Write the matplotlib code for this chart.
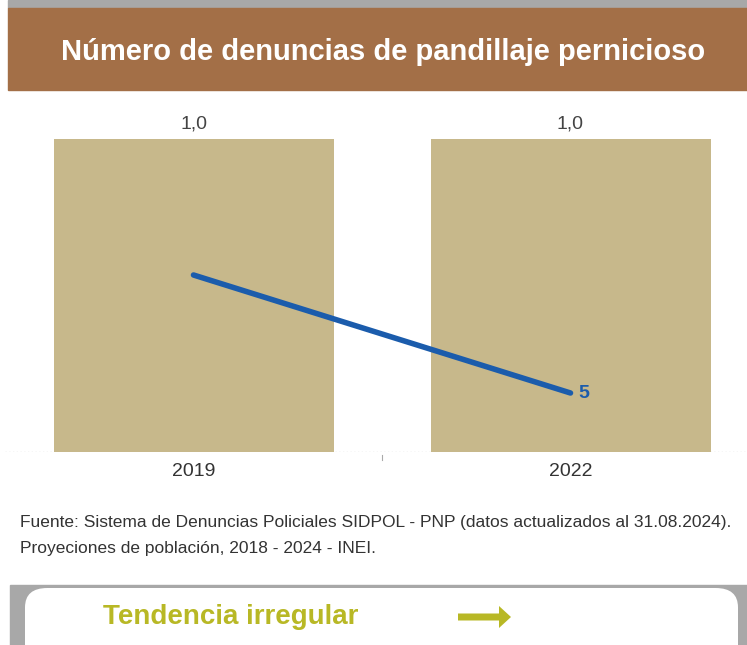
import matplotlib
matplotlib.use("Agg")
import matplotlib.pyplot as plt
from matplotlib.patches import Rectangle, FancyBboxPatch, Polygon

plt.rcParams["font.family"] = ["Liberation Sans", "DejaVu Sans"]

years = ["2019", "2022"]
bar_values = [1.0, 1.0]
line_values = [15, 5]
title = "Número de denuncias de pandillaje pernicioso"
source_lines = [
    "Fuente: Sistema de Denuncias Policiales SIDPOL - PNP (datos actualizados al 31.08.2024).",
    "Proyeciones de población, 2018 - 2024 - INEI.",
]
trend_label = "Tendencia irregular"

W, H = 747, 645
fig = plt.figure(figsize=(W / 100, H / 100), dpi=100)


def px(x, y):
    # pixel coords (top-left origin) -> figure fraction
    return x / W, 1 - y / H


# header band
fig.patches.append(Rectangle(px(8, 8), (W - 8) / W, 8 / H, transform=fig.transFigure,
                             color="#a8a8a8", zorder=0))
fig.patches.append(Rectangle(px(8, 90), (W - 8) / W, 82 / H, transform=fig.transFigure,
                             color="#a36f47", zorder=0))
fig.text(*px(383, 52), title, color="white", fontsize=21, fontweight="bold",
         ha="center", va="center")

# chart area
ax_left, ax_right, ax_top, ax_bot = 5, W, 100, 452
ax = fig.add_axes([ax_left / W, 1 - ax_bot / H, (ax_right - ax_left) / W, (ax_bot - ax_top) / H])
spacing = 377.0
x = list(range(len(years)))
ax.set_xlim(-0.5, -0.5 + (ax_right - ax_left) / spacing)
ax.set_ylim(0, 1.0 * (ax_bot - ax_top) / 313)
ax.bar(x, bar_values, width=280 / spacing, color="#c7b88b", zorder=1)
for xi, v in zip(x, bar_values):
    ax.annotate(f"{v:.1f}".replace(".", ","), (xi, v), xytext=(0, 5), textcoords="offset points",
                ha="center", va="bottom", fontsize=14, color="#444444")

for s in ax.spines.values():
    s.set_visible(False)
ax.axhline(0, color="#bbbbbb", linestyle=(0, (1, 2)), linewidth=0.9, zorder=0)
ax.set_yticks([])
ax.set_xticks(x)
ax.set_xticklabels(years, fontsize=14, color="#333333")
ax.tick_params(axis="x", length=0, pad=8)
ax.plot([0.5, 0.5], [-0.01, -0.025], color="#aaaaaa", linewidth=0.8, clip_on=False)

ax2 = ax.twinx()
ax2.set_ylim(0, 5 * (ax_bot - ax_top) / 59)
ax2.plot(x, line_values, color="#1b5cac", linewidth=4, solid_capstyle="round", zorder=3)
ax2.annotate(str(line_values[-1]), (x[-1], line_values[-1]), xytext=(6, 0),
             textcoords="offset points", ha="left", va="center", fontsize=14,
             fontweight="bold", color="#1b5cac")
ax2.set_yticks([])
for s in ax2.spines.values():
    s.set_visible(False)

# source notes
fig.text(*px(20, 522), source_lines[0], fontsize=12.5, color="#333333", va="center", ha="left")
fig.text(*px(20, 549), source_lines[1], fontsize=12.5, color="#333333", va="center", ha="left")

# trend box
fig.patches.append(Rectangle(px(10, H), (W - 10) / W, 60 / H, transform=fig.transFigure,
                             color="#a8a8a8", zorder=0))
box = FancyBboxPatch(px(25, H + 20), (738 - 25) / W, 77 / H,
                     boxstyle="round,pad=0,rounding_size=0.03",
                     transform=fig.transFigure, facecolor="white", edgecolor="none", zorder=1)
fig.patches.append(box)
olive = "#b8b825"
fig.text(*px(103, 617), trend_label, fontsize=20, fontweight="bold", color=olive,
         ha="left", va="center", zorder=2)
arrow_pts = [(458, 613.5), (499, 613.5), (499, 606), (511, 617), (499, 628), (499, 620.5), (458, 620.5)]
fig.patches.append(Polygon([px(a, b) for a, b in arrow_pts], closed=True, transform=fig.transFigure,
                           facecolor=olive, edgecolor="none", zorder=2))

fig.savefig("out.png", dpi=100)
